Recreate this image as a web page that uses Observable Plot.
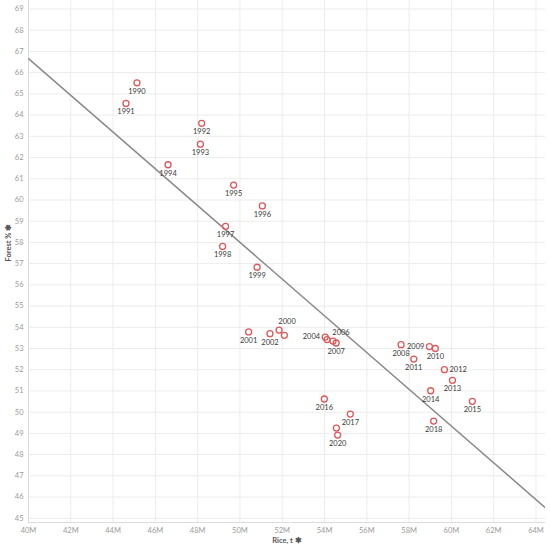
<!DOCTYPE html>
<html>
<head>
<meta charset="utf-8">
<script src="https://cdn.jsdelivr.net/npm/d3@7"></script>
<script src="https://cdn.jsdelivr.net/npm/@observablehq/plot@0.6"></script>
<style>
  body { margin: 0; background: #fff; }
  #chart svg { display: block; }
</style>
</head>
<body>
<div id="chart"></div>
<script>
// values
const years = [1990, 1991, 1992, 1993, 1994, 1995, 1996, 1997, 1998, 1999,
  2000, 2001, 2002, 2003, 2004, 2005, 2006, 2007, 2008, 2009,
  2010, 2011, 2012, 2013, 2014, 2015, 2016, 2017, 2018, 2019, 2020]
// rice production, millions of tonnes
const rice = [45.13, 44.61, 48.19, 48.13, 46.60, 49.70, 51.06, 49.32, 49.18, 50.81,
  51.85, 50.41, 51.42, 52.10, 54.03, 54.12, 54.40, 54.55, 57.62, 58.96,
  59.24, 58.22, 59.67, 60.05, 59.02, 60.99, 53.99, 55.22, 59.16, 54.56, 54.62]
// forest area, %
const forest = [65.52, 64.55, 63.61, 62.63, 61.66, 60.70, 59.72, 58.76, 57.81, 56.83,
  53.87, 53.78, 53.70, 53.62, 53.54, 53.42, 53.35, 53.26, 53.18, 53.09,
  53.00, 52.50, 52.00, 51.50, 51.01, 50.51, 50.62, 49.91, 49.58, 49.25, 48.92]

const xTicks = d3.range(40, 65, 2)
const yTicks = d3.range(45, 70, 1)
const xDomain = [40, 64.45]
const yDomain = [44.8, 69.4]

// where the year labels sit (default is below the mark)
const labelSide = {2000: 'above', 2004: 'left', 2006: 'above', 2009: 'left', 2012: 'right'}
const unlabeled = [2003, 2005, 2019]

const data = years.map((year, i) => ({year, rice: rice[i], forest: forest[i]}))
const labelled = data.filter(d => !unlabeled.includes(d.year))
const side = s => labelled.filter(d => (labelSide[d.year] || 'below') === s)

// least squares trend line, drawn across the whole x range
const mx = d3.mean(data, d => d.rice)
const my = d3.mean(data, d => d.forest)
const slope = d3.sum(data, d => (d.rice - mx) * (d.forest - my)) / d3.sum(data, d => (d.rice - mx) ** 2)
const trend = xDomain.map(x => ({rice: x, forest: my + slope * (x - mx)}))

const red = '#e15759'
const yearText = d => String(d.year)
const labelFont = {fontSize: 7.5, fill: '#3a3a3a'}

let chart = Plot.plot({
  width: 550,
  height: 551,
  marginTop: 0,
  marginRight: 5,
  marginBottom: 29,
  marginLeft: 28,
  style: {fontFamily: 'Lato, sans-serif', fontSize: '7.5px', background: '#fff'},
  x: {domain: xDomain},
  y: {domain: yDomain},
  marks: [
    Plot.gridX(xTicks, {stroke: '#ececec', strokeOpacity: 1}),
    Plot.gridY(yTicks, {stroke: '#ececec', strokeOpacity: 1}),
    Plot.ruleX([xDomain[0]], {stroke: '#dcdcdc'}),
    Plot.ruleY([yDomain[0]], {stroke: '#dcdcdc'}),
    Plot.line(trend, {x: 'rice', y: 'forest', stroke: '#8a8a8a', strokeWidth: 1.5, clip: true}),
    Plot.dot(data, {x: 'rice', y: 'forest', r: 3, stroke: red, strokeWidth: 1.3, fill: 'none'}),
    Plot.text(side('below'), {x: 'rice', y: 'forest', text: yearText, dy: 8.5, ...labelFont}),
    Plot.text(side('above'), {x: 'rice', y: 'forest', text: yearText, dx: 8, dy: -8, ...labelFont}),
    Plot.text(side('left'), {x: 'rice', y: 'forest', text: yearText, dx: -5, textAnchor: 'end', ...labelFont}),
    Plot.text(side('right'), {x: 'rice', y: 'forest', text: yearText, dx: 5, textAnchor: 'start', ...labelFont}),
    Plot.axisX(xTicks, {tickFormat: d => d + 'M', tickSize: 0, tickPadding: 5, fill: '#9a9a9a', label: null}),
    Plot.axisY(yTicks, {tickSize: 0, tickPadding: 5, fill: '#9a9a9a', label: null}),
    // axis titles
    Plot.text(['Rice, t ✱'], {frameAnchor: 'bottom', dy: 20, fontSize: 7.5, fontWeight: 'bold', fill: '#555'}),
    Plot.text(['Forest % ✱'], {frameAnchor: 'left', dx: -20, rotate: -90, fontSize: 7.5, fontWeight: 'bold', fill: '#555'})
  ]
})

d3.select('#chart').append(() => chart)
</script>
</body>
</html>
